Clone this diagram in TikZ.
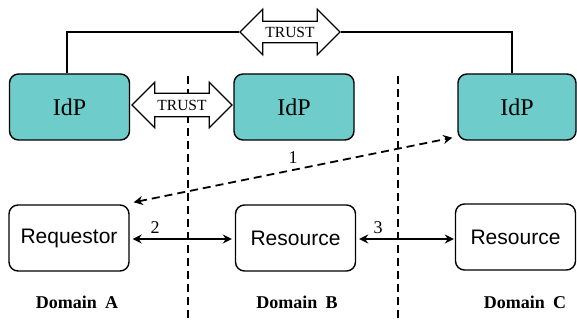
\documentclass[tikz,border=0pt]{standalone}
\usepackage{fontspec}
\setmainfont{Liberation Serif}
\setsansfont{Liberation Sans}
\usetikzlibrary{arrows.meta,shapes.arrows,calc}
\definecolor{idpteal}{RGB}{110,205,202}

\begin{document}
\begin{tikzpicture}[x=1pt,y=-1pt,
  roundbox/.style={draw=black, line width=1.4pt, rounded corners=9pt,
    minimum width=120pt, minimum height=66pt, inner sep=0pt},
  idpbox/.style={roundbox, fill=idpteal, font=\fontsize{24}{28}\selectfont},
  agentbox/.style={roundbox, fill=white, font=\sffamily\fontsize{21}{25}\selectfont},
  trustarrow/.style={double arrow, draw=black, fill=white, line width=1.2pt,
    minimum width=45pt, double arrow head extend=11pt, minimum height=100pt,
    inner xsep=1pt, inner ysep=6pt, font=\fontsize{15.5}{18}\selectfont},
  domaincaption/.style={font=\bfseries\fontsize{18}{22}\selectfont},
  steplabel/.style={font=\fontsize{18}{22}\selectfont},
  borderline/.style={line width=1.6pt, dash pattern=on 8pt off 5pt},
  flowarrow/.style={line width=1.8pt, {Stealth[length=9pt,width=9pt,inset=3pt]}-{Stealth[length=9pt,width=9pt,inset=3pt]}},
  trustwire/.style={line width=1.2pt},
]
\useasboundingbox (0,0) rectangle (577,320);

% domain borders
\coordinate (b1top) at (188,76);
\coordinate (b1bot) at (188,320);
\coordinate (b2top) at (398,76);
\coordinate (b2bot) at (398,320);
\draw[borderline] (b1top) -- (b1bot);
\draw[borderline] (b2top) -- (b2bot);

% identity providers
\node[idpbox] (idpA) at (69.5,107) {IdP};
\node[idpbox] (idpB) at (294,107) {IdP};
\node[idpbox, minimum width=118pt] (idpC) at (517,107) {IdP};

% requestor and resources
\node[agentbox] (req) at (69,238) {Requestor};
\node[agentbox] (resB) at (295.5,238) {Resource};
\node[agentbox] (resC) at (515.5,237) {Resource};

% trust relations
\node[trustarrow] (trustAB) at (182,105) {TRUST};
\node[trustarrow, inner ysep=5pt, double arrow head extend=12pt] (trustAC) at (290,32) {TRUST};

\draw[trustwire] (idpA.north -| 67,0) |- (trustAC.west);
\draw[trustwire] (trustAC.east) -| (idpC.north -| 512,0);

% message flows
\draw[flowarrow, dash pattern=on 8pt off 5pt]
  ([xshift=4pt,yshift=2pt]req.north east) -- ([xshift=-5pt,yshift=3pt]idpC.south west)
  node[steplabel, pos=0.5, above=2pt] {1};
\draw[flowarrow] ([xshift=3pt]req.east |- 0,239) -- ([xshift=-3pt]resB.west |- 0,239);
\draw[flowarrow] ([xshift=3pt]resB.east |- 0,239) -- ([xshift=-1pt]resC.west |- 0,239);
\node[steplabel] at (155,228) {2};
\node[steplabel] at (378,228) {3};

% domain captions
\node[domaincaption] at (77,302) {Domain\hspace{0.45em}A};
\node[domaincaption] at (297,302) {Domain\hspace{0.45em}B};
\node[domaincaption] at (525,302) {Domain\hspace{0.45em}C};
\end{tikzpicture}
\end{document}
